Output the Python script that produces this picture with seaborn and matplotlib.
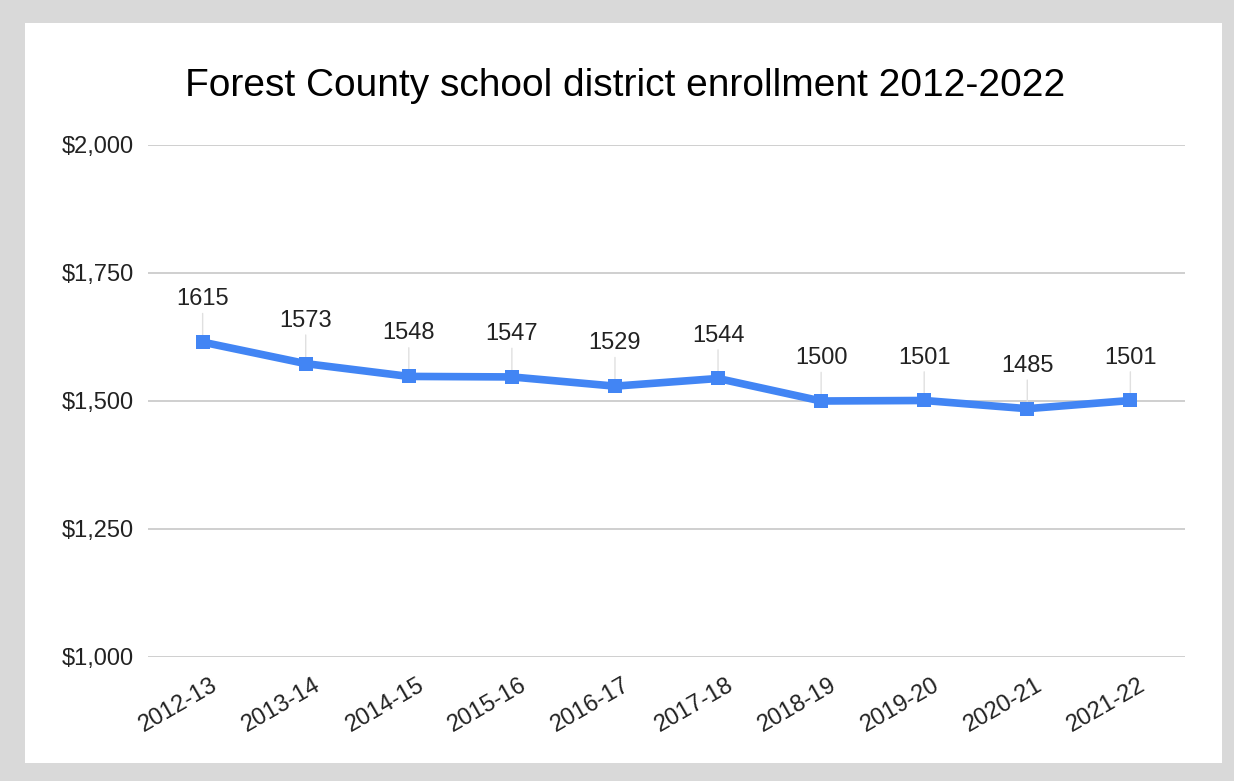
import matplotlib
matplotlib.use("Agg")
import matplotlib.pyplot as plt
import matplotlib.transforms as mtransforms
from matplotlib.patches import Rectangle
from matplotlib.ticker import FuncFormatter
import seaborn as sns
import pandas as pd

# School years and enrollment counts
years = ["2012-13", "2013-14", "2014-15", "2015-16", "2016-17",
         "2017-18", "2018-19", "2019-20", "2020-21", "2021-22"]
enrollment = [1615, 1573, 1548, 1547, 1529, 1544, 1500, 1501, 1485, 1501]
y_ticks = [1000, 1250, 1500, 1750, 2000]

title = "Forest County school district enrollment 2012-2022"

sns.set_theme(style="white")
plt.rcParams["font.family"] = ["Liberation Sans", "DejaVu Sans"]

W, H = 1234, 781
fig = plt.figure(figsize=(W / 100, H / 100), dpi=100)
fig.patch.set_facecolor("#d9d9d9")
# white card inside the grey frame
fig.patches.append(Rectangle((25 / W, 1 - 763 / H), (1222 - 25) / W, (763 - 23) / H,
                             transform=fig.transFigure, facecolor="white",
                             edgecolor="none", zorder=-5))

ax = fig.add_axes([148 / W, 1 - 657 / H, (1185 - 148) / W, (657 - 145) / H])
ax.set_facecolor("none")
ax.set_zorder(1)

df = pd.DataFrame({"year": years, "enrollment": enrollment})
sns.lineplot(data=df, x="year", y="enrollment", ax=ax, color="#4285F4",
             linewidth=5.5, marker="s", markersize=10, markeredgewidth=0,
             sort=False, zorder=3)

ax.set_ylim(1000, 2000)
ax.set_xlim(-0.53, len(years) - 0.47)
ax.set_yticks(y_ticks)
ax.yaxis.set_major_formatter(FuncFormatter(lambda v, p: f"${v:,.0f}"))
ax.grid(axis="y", color="#cccccc", linewidth=1.3)
ax.grid(axis="x", visible=False)
ax.set_axisbelow(True)
for s in ax.spines.values():
    s.set_visible(False)
ax.tick_params(axis="both", length=0, labelsize=17, colors="#222222")
ax.tick_params(axis="y", pad=10)
ax.tick_params(axis="x", pad=12)
ax.set_xlabel("")
ax.set_ylabel("")
shift = mtransforms.ScaledTranslation(8 / 100, 0, fig.dpi_scale_trans)
for lab in ax.get_xticklabels():
    lab.set_rotation(30)
    lab.set_ha("right")
    lab.set_rotation_mode("anchor")
    lab.set_transform(lab.get_transform() + shift)

# value labels with thin leader lines
for i, v in enumerate(enrollment):
    ax.annotate(str(v), xy=(i, v), xytext=(0, 23), textcoords="offset points",
                ha="center", va="bottom", fontsize=17, color="#222222",
                arrowprops=dict(arrowstyle="-", color="#e0e0e0", lw=1,
                                shrinkA=0, shrinkB=0), zorder=2)

fig.text(625 / W, 1 - 86 / H, title, ha="center", va="center",
         fontsize=28, color="black")

fig.savefig("out.png", dpi=100, facecolor=fig.get_facecolor())
